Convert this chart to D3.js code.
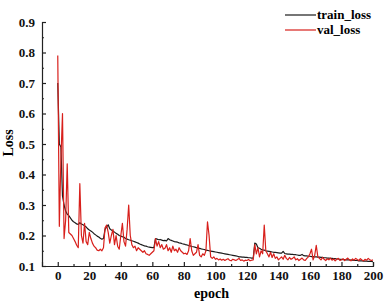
<!DOCTYPE html>
<html>
<head>
<meta charset="utf-8">
<script src="https://cdn.jsdelivr.net/npm/d3@7"></script>
<style>
  body { margin: 0; background: #fff; }
  svg text { font-family: "Liberation Serif", "Times New Roman", serif; font-weight: bold; }
</style>
</head>
<body>
<div class="loss-chart"></div>
<script>
const seriesNames = ["train_loss", "val_loss"];
const xTicks = [0, 20, 40, 60, 80, 100, 120, 140, 160, 180, 200];
const yTicks = [0.1, 0.2, 0.3, 0.4, 0.5, 0.6, 0.7, 0.8, 0.9];

// one value per epoch, 0..200
const trainLoss = [
  0.70,0.50,0.49,0.33,0.30,0.28,0.27,0.265,0.258,0.25,
  0.245,0.242,0.238,0.236,0.242,0.238,0.235,0.232,0.228,0.222,
  0.218,0.215,0.211,0.206,0.202,0.198,0.195,0.191,0.188,0.19,
  0.22,0.228,0.235,0.222,0.218,0.215,0.211,0.207,0.204,0.2,
  0.198,0.196,0.194,0.19,0.188,0.186,0.185,0.183,0.181,0.179,
  0.177,0.175,0.172,0.17,0.168,0.166,0.165,0.163,0.162,0.161,
  0.16,0.16,0.19,0.188,0.186,0.187,0.185,0.183,0.184,0.182,
  0.19,0.186,0.184,0.182,0.18,0.179,0.178,0.176,0.175,0.173,
  0.172,0.17,0.169,0.167,0.166,0.164,0.163,0.162,0.16,0.159,
  0.158,0.156,0.155,0.154,0.152,0.151,0.15,0.149,0.148,0.147,
  0.146,0.145,0.144,0.143,0.142,0.141,0.14,0.139,0.138,0.137,
  0.136,0.135,0.134,0.133,0.132,0.13,0.13,0.129,0.129,0.128,
  0.128,0.127,0.127,0.126,0.126,0.175,0.172,0.16,0.158,0.155,
  0.153,0.152,0.15,0.149,0.148,0.147,0.146,0.145,0.145,0.144,
  0.143,0.142,0.142,0.148,0.141,0.14,0.139,0.139,0.138,0.138,
  0.137,0.137,0.136,0.135,0.135,0.138,0.134,0.133,0.133,0.132,
  0.132,0.131,0.131,0.13,0.13,0.129,0.129,0.128,0.128,0.127,
  0.127,0.126,0.126,0.125,0.125,0.124,0.124,0.123,0.123,0.122,
  0.122,0.121,0.121,0.12,0.12,0.12,0.119,0.119,0.118,0.118,
  0.118,0.117,0.117,0.117,0.116,0.116,0.116,0.115,0.115,0.115,
  0.114
];

const valLoss = [
  0.79,0.23,0.45,0.60,0.19,0.25,0.435,0.21,0.205,0.2,
  0.19,0.18,0.168,0.16,0.37,0.2,0.175,0.24,0.18,0.17,
  0.21,0.19,0.175,0.165,0.16,0.152,0.15,0.155,0.15,0.16,
  0.225,0.234,0.21,0.175,0.2,0.22,0.17,0.2,0.165,0.155,
  0.2,0.24,0.18,0.165,0.22,0.3,0.2,0.17,0.16,0.165,
  0.15,0.16,0.155,0.15,0.145,0.15,0.14,0.138,0.135,0.14,
  0.145,0.15,0.19,0.165,0.18,0.16,0.17,0.155,0.158,0.17,
  0.15,0.16,0.145,0.165,0.15,0.155,0.145,0.16,0.15,0.145,
  0.14,0.142,0.138,0.15,0.19,0.15,0.135,0.14,0.145,0.17,
  0.135,0.13,0.14,0.135,0.15,0.245,0.2,0.13,0.125,0.13,
  0.122,0.125,0.12,0.123,0.119,0.122,0.118,0.121,0.124,0.119,
  0.117,0.122,0.12,0.118,0.121,0.125,0.118,0.12,0.116,0.119,
  0.118,0.121,0.117,0.119,0.12,0.17,0.14,0.16,0.13,0.15,
  0.14,0.234,0.15,0.14,0.13,0.145,0.128,0.14,0.125,0.13,
  0.12,0.125,0.13,0.122,0.135,0.125,0.12,0.128,0.122,0.125,
  0.13,0.12,0.124,0.118,0.122,0.126,0.12,0.118,0.125,0.13,
  0.14,0.155,0.12,0.135,0.168,0.13,0.125,0.12,0.128,0.122,
  0.118,0.124,0.12,0.126,0.119,0.123,0.117,0.122,0.125,0.118,
  0.12,0.124,0.118,0.122,0.126,0.12,0.117,0.123,0.119,0.125,
  0.121,0.118,0.124,0.12,0.117,0.122,0.119,0.125,0.12,0.118,
  0.12
];

const colors = ["#1c1c1c", "#d8201c"];

const width = 387, height = 301;
const margin = { left: 42, right: 373, top: 22, bottom: 266 };

const svg = d3.select(".loss-chart")
  .append("svg")
  .attr("width", width)
  .attr("height", height);

const x = d3.scaleLinear().domain([-10, 200]).range([margin.left, margin.right]);
const y = d3.scaleLinear().domain([0.1, 0.9]).range([margin.bottom, margin.top]);

// axes, ticks pointing inward
const xAxis = d3.axisBottom(x).tickValues(xTicks).tickSize(-4).tickPadding(5).tickFormat(d3.format("d"));
const yAxis = d3.axisLeft(y).tickValues(yTicks).tickSize(-4).tickPadding(7).tickFormat(d3.format(".1f"));

const gx = svg.append("g")
  .attr("transform", "translate(0," + margin.bottom + ")")
  .call(xAxis);
gx.selectAll("text").attr("font-size", 13).attr("fill", "#111");

const gy = svg.append("g")
  .attr("transform", "translate(" + margin.left + ",0)")
  .call(yAxis);
gy.selectAll("text").attr("font-size", 13).attr("fill", "#111");

// minor ticks
svg.append("g")
  .attr("transform", "translate(0," + margin.bottom + ")")
  .call(d3.axisBottom(x).tickValues(xTicks.slice(0, -1).map(d => d + 10)).tickSize(-2).tickFormat(""))
  .call(g => g.select(".domain").remove());
svg.append("g")
  .attr("transform", "translate(" + margin.left + ",0)")
  .call(d3.axisLeft(y).tickValues(yTicks.slice(0, -1).map(d => d + 0.05)).tickSize(-2).tickFormat(""))
  .call(g => g.select(".domain").remove());

svg.selectAll(".domain, .tick line").attr("stroke", "#222").attr("stroke-width", 1.2);

// lines
const line = d3.line().x((d, i) => x(i)).y(d => y(d));

[trainLoss, valLoss].forEach((vals, i) => {
  svg.append("path")
    .datum(vals)
    .attr("fill", "none")
    .attr("stroke", colors[i])
    .attr("stroke-width", 1.2)
    .attr("stroke-linejoin", "round")
    .attr("d", line);
});

// axis titles
svg.append("text")
  .attr("x", (margin.left + margin.right) / 2 + 4)
  .attr("y", 298)
  .attr("text-anchor", "middle")
  .attr("font-size", 14)
  .text("epoch");

svg.append("text")
  .attr("transform", "translate(13,143) rotate(-90)")
  .attr("text-anchor", "middle")
  .attr("font-size", 14)
  .text("Loss");

// legend
const legend = svg.append("g");
seriesNames.forEach((name, i) => {
  const ly = 15 + i * 15;
  legend.append("line")
    .attr("x1", 285).attr("x2", 316)
    .attr("y1", ly).attr("y2", ly)
    .attr("stroke", colors[i])
    .attr("stroke-width", 1.2);
  legend.append("text")
    .attr("x", 317)
    .attr("y", ly + 4)
    .attr("font-size", 13)
    .text(name);
});
</script>
</body>
</html>
